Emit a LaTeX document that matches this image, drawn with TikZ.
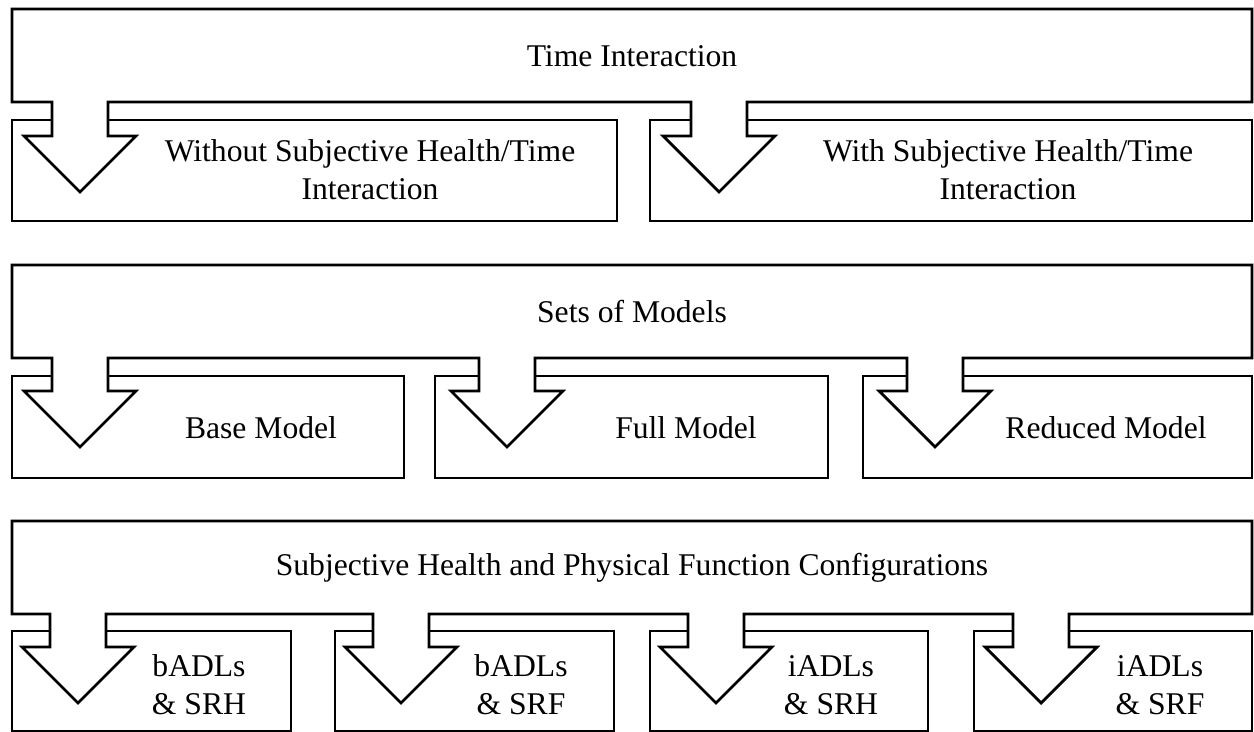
\documentclass[tikz,border=0pt]{standalone}
\usepackage{fontspec}
\setmainfont{Liberation Serif}
\usepackage{tikz}

\begin{document}
\begin{tikzpicture}[
    x=0.02cm, y=-0.02cm,
    line width=1.6pt, line join=miter,
    optbox/.style={draw},
    banner/.style={draw, fill=white},
    txt/.style={font=\fontsize{18}{21.6}\selectfont, align=center, inner sep=0pt}
]
    \useasboundingbox (0,0) rectangle (1254,732);

    % Time interaction
    \draw[optbox] (12,120) rectangle (617,221);
    \draw[optbox] (650,120) rectangle (1252,221);
    \draw[banner] (12,9) -- (1252,9) -- (1252,102)
        \foreach \s in {691,52} { -- (\s+56,102) -- (\s+56,136) -- (\s+84,136) -- (\s+28,192) -- (\s-28,136) -- (\s,136) -- (\s,102) }
        -- (12,102) -- cycle;
    \node[txt] (timeint) at (632,56) {Time Interaction};
    \node[txt] (without) at (370,170) {Without Subjective Health/Time\\Interaction};
    \node[txt] (with) at (1008,170) {With Subjective Health/Time\\Interaction};

    % Sets of models
    \draw[optbox] (12,376) rectangle (404,478);
    \draw[optbox] (435,376) rectangle (828,478);
    \draw[optbox] (863,376) rectangle (1252,478);
    \draw[banner] (12,265) -- (1252,265) -- (1252,358)
        \foreach \s in {907,479,52} { -- (\s+56,358) -- (\s+56,391) -- (\s+84,391) -- (\s+28,447) -- (\s-28,391) -- (\s,391) -- (\s,358) }
        -- (12,358) -- cycle;
    \node[txt] (models) at (632,312) {Sets of Models};
    \node[txt] (base) at (261,428) {Base Model};
    \node[txt] (full) at (686,428) {Full Model};
    \node[txt] (reduced) at (1106,428) {Reduced Model};

    % Configurations
    \draw[optbox] (12,631) rectangle (291,731);
    \draw[optbox] (335,631) rectangle (614,731);
    \draw[optbox] (650,631) rectangle (928,731);
    \draw[optbox] (974,631) rectangle (1252,731);
    \draw[banner] (12,521) -- (1252,521) -- (1252,614)
        \foreach \s in {1013,688,373,50} { -- (\s+56,614) -- (\s+56,647) -- (\s+84,647) -- (\s+28,703) -- (\s-28,647) -- (\s,647) -- (\s,614) }
        -- (12,614) -- cycle;
    \node[txt] (configs) at (632,568) {Subjective Health and Physical Function Configurations};
    \node[txt] (badlsrh) at (199,685) {bADLs\\\& SRH};
    \node[txt] (badlsrf) at (521,685) {bADLs\\\& SRF};
    \node[txt] (iadlsrh) at (831,685) {iADLs\\\& SRH};
    \node[txt] (iadlsrf) at (1160,685) {iADLs\\\& SRF};
\end{tikzpicture}
\end{document}
